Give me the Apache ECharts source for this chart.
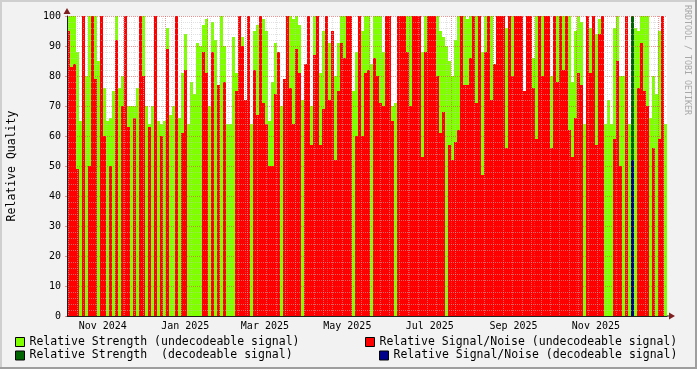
<!DOCTYPE html>
<html><head><meta charset="utf-8">
<script src="https://cdn.jsdelivr.net/npm/echarts@6/dist/echarts.min.js"></script>
<style>html,body{margin:0;padding:0;background:#f2f2f2}#c{width:697px;height:369px}</style>
</head><body><div id="c"></div>
<script>
// Relative strength (undecodeable signal), one value per sample (null = decodeable sample)
const strength = [
100,100,100,88,65,100,80,100,100,100, 85,100,76,65,66,75,100,76,80,100, 70,70,70,76,100,100,70,64,70,100, 65,64,65,
96,67,70,100,66,81,94,64,78,74, 91,90,97,99,70,98,92,77,100,90, 64,64,93,81,100,93,72,100,64,95, 97,100,99,95,
65,78,91,88,70,79,100,100,99,100, 97,72,84,100,70,100,100,81,95,100, 91,95,80,91,100,100,100,100,75,88, 100,95,100,
100,84,100,100,100,88,100,100,70,71, 100,100,100,100,100,100,100,100,88,100, 100,100,100,100,95,93,90,85,80,92, 100,100,100,
99,100,100,100,100,88,100,100,100,84, 100,100,100,96,100,100,100,100,100,75, 100,100,86,100,100,100,100,100,80,100, 100,100,100,88,
100,78,95,100,98,64,100,96,100,94, 99,100,64,72,64,96,100,80,80,100, 64,null,96,95,100,100,100,66,80,74, 95,100,64
];
// Relative signal/noise (undecodeable signal)
const snr = [
95,83,84,49,0,100,0,50,100,79, 0,100,60,0,50,0,92,0,70,100, 63,0,66,0,100,80,0,63,0,100, 0,60,0,
89,0,0,100,0,61,82,0,0,0, 0,0,88,81,0,88,0,77,0,78, 0,0,0,75,100,90,72,100,0,82, 67,100,71,64,
50,50,74,88,0,79,100,76,64,89, 81,0,84,100,57,87,100,57,69,100, 72,95,52,75,91,86,100,100,0,60, 100,60,81,
82,0,86,80,71,70,100,100,65,0, 100,100,100,88,70,100,100,100,53,88, 100,100,100,80,61,68,0,57,52,58, 62,100,77,
77,86,100,71,100,47,88,100,72,84, 100,100,100,56,100,80,100,100,100,75, 100,100,76,59,100,80,100,100,56,100, 78,100,82,100,
62,53,66,81,77,0,100,81,100,57, 94,100,0,0,0,59,85,50,0,100, 0,null,0,76,91,75,70,0,56,0, 59,100,0
];
// Decodeable samples
const decIndex = [188];
const decStrength = [100];
const decSnr = [52];

const yTicks = [0,10,20,30,40,50,60,70,80,90,100];
const monthNames = ['Jan','Feb','Mar','Apr','May','Jun','Jul','Aug','Sep','Oct','Nov','Dec'];
const labelMonths = [[2024,10],[2025,0],[2025,2],[2025,4],[2025,6],[2025,8],[2025,10]];

const DAY = 86400000;
const tMin = Date.UTC(2024, 9, 20, 12);
const tMax = tMin + 600 / 1.351 * DAY;
const N = strength.length;
const step = (tMax - tMin) / N;
const categories = strength.map((_, i) => new Date(tMin + (i + 0.5) * step).toISOString().slice(0, 10));

const decS = new Array(N).fill(null), decN = new Array(N).fill(null);
decIndex.forEach((k, j) => { decS[k] = decStrength[j]; decN[k] = decSnr[j]; });

// grid line times
const monthStarts = [];
for (let y = 2024, m = 9; ; ) { const t = Date.UTC(y, m, 1); if (t > tMax) break; if (t >= tMin) monthStarts.push(t); m++; if (m > 11) { m = 0; y++; } }
const weekStarts = [];
{ let t = Date.UTC(2024, 9, 21); while (t <= tMax) { if (t >= tMin) weekStarts.push(t); t += 7 * DAY; } }
const labelValues = labelMonths.map(([y, m]) => Date.UTC(y, m, 1) + 15 * DAY);

const FONT = 'DejaVu Sans Mono';
const GRID = 'rgba(195,195,195,0.5)';
const MGRID = 'rgba(222,79,79,0.6)';

function vline(color, ext) {
  return function (params, api) {
    const t = api.value(0);
    const p0 = api.coord([t, 0]);
    const p1 = api.coord([t, 100]);
    const x = Math.round(p0[0]) + 0.5;
    return { type: 'line', silent: true,
      shape: { x1: x, y1: p1[1], x2: x, y2: p0[1] + ext },
      style: { stroke: color, lineWidth: 1, lineDash: [1, 1] } };
  };
}

const chart = echarts.init(document.getElementById('c'), null, { renderer: 'canvas' });
const legendBase = (name, left, top) => ({
  data: [name], left, top, padding: 0, itemWidth: 9, itemHeight: 9, icon: 'rect', selectedMode: false,
  itemStyle: { borderColor: '#000', borderWidth: 1 },
  textStyle: { fontFamily: FONT, fontSize: 11.5, color: '#000' }
});
chart.setOption({
  animation: false,
  backgroundColor: '#f2f2f2',
  grid: { left: 67, top: 16, width: 600, height: 300, show: true, backgroundColor: '#ffffff', borderWidth: 0,
    containLabel: false, outerBoundsMode: 'none' },
  legend: [
    legendBase('Relative Strength (undecodeable signal)', 15, 336),
    legendBase('Relative Strength  (decodeable signal)', 15, 349.5),
    legendBase('Relative Signal/Noise (undecodeable signal)', 365, 336),
    legendBase('Relative Signal/Noise (decodeable signal)', 379, 349.5)
  ],
  xAxis: [
    { type: 'category', data: categories, show: false, boundaryGap: true },
    { type: 'value', min: tMin, max: tMax, position: 'bottom', z: 6,
      axisLine: { show: true, onZero: false, lineStyle: { color: '#1f1f1f', width: 1 } },
      axisTick: { show: false },
      splitLine: { show: false },
      axisLabel: { customValues: labelValues, margin: 5, fontFamily: FONT, fontSize: 10, color: '#000',
        formatter: v => { const d = new Date(v); return monthNames[d.getUTCMonth()] + ' ' + d.getUTCFullYear(); } } }
  ],
  yAxis: [{
    type: 'value', min: 0, max: 100, interval: 10, z: 6,
    name: 'Relative Quality', nameLocation: 'middle', nameGap: 49, nameRotate: 90,
    nameTextStyle: { fontFamily: FONT, fontSize: 11.5, color: '#000' },
    axisLine: { show: true, lineStyle: { color: '#1f1f1f', width: 1 } },
    axisTick: { show: true, length: 2, lineStyle: { color: MGRID } },
    axisLabel: { margin: 6, fontFamily: FONT, fontSize: 10, color: '#000' },
    splitLine: { show: true, lineStyle: { color: MGRID, type: [1, 1], width: 1 } },
    minorTick: { show: false, splitNumber: 5 },
    minorSplitLine: { show: true, lineStyle: { color: GRID, type: [1, 1], width: 1 } }
  }],
  series: [
    { name: 'Relative Strength (undecodeable signal)', type: 'bar', data: strength, xAxisIndex: 0,
      barWidth: '100%', barGap: '-100%', itemStyle: { color: '#80ff00' }, silent: true, z: 2 },
    { name: 'Relative Signal/Noise (undecodeable signal)', type: 'bar', data: snr, xAxisIndex: 0,
      barWidth: '100%', barGap: '-100%', itemStyle: { color: '#ff0000' }, silent: true, z: 2 },
    { name: 'Relative Strength  (decodeable signal)', type: 'bar', data: decS, xAxisIndex: 0,
      barWidth: '100%', barGap: '-100%', itemStyle: { color: '#006400' }, silent: true, z: 2 },
    { name: 'Relative Signal/Noise (decodeable signal)', type: 'bar', data: decN, xAxisIndex: 0,
      barWidth: '100%', barGap: '-100%', itemStyle: { color: '#00008b' }, silent: true, z: 2 },
    { type: 'custom', xAxisIndex: 1, yAxisIndex: 0, z: 5, silent: true, clip: false,
      data: weekStarts.map(t => [t]), renderItem: vline(GRID, 0) },
    { type: 'custom', xAxisIndex: 1, yAxisIndex: 0, z: 5, silent: true, clip: false,
      data: monthStarts.map(t => [t]), renderItem: vline(MGRID, 2) }
  ],
  graphic: [
    { type: 'rect', shape: { x: 0, y: 0, width: 697, height: 2 }, style: { fill: '#cfcfcf' }, silent: true },
    { type: 'rect', shape: { x: 0, y: 0, width: 2, height: 369 }, style: { fill: '#cfcfcf' }, silent: true },
    { type: 'rect', shape: { x: 0, y: 367, width: 697, height: 2 }, style: { fill: '#9e9e9e' }, silent: true },
    { type: 'rect', shape: { x: 695, y: 0, width: 2, height: 369 }, style: { fill: '#9e9e9e' }, silent: true },
    { type: 'polygon', shape: { points: [[67, 8], [63.5, 14], [70.5, 14]] }, style: { fill: '#801f1f' }, silent: true, z: 10 },
    { type: 'rect', shape: { x: 667, y: 315.5, width: 3, height: 1 }, style: { fill: '#1f1f1f' }, silent: true },
    { type: 'polygon', shape: { points: [[675, 316], [669, 312.5], [669, 319.5]] }, style: { fill: '#801f1f' }, silent: true, z: 10 },
    { type: 'text', x: 687, y: 5, rotation: -Math.PI / 2, silent: true,
      style: { text: 'RRDTOOL / TOBI OETIKER', font: '8.3px "DejaVu Sans Mono"', fill: '#a8a8a8', textAlign: 'left', textVerticalAlign: 'middle' } }
  ]
});
</script>
</body></html>
